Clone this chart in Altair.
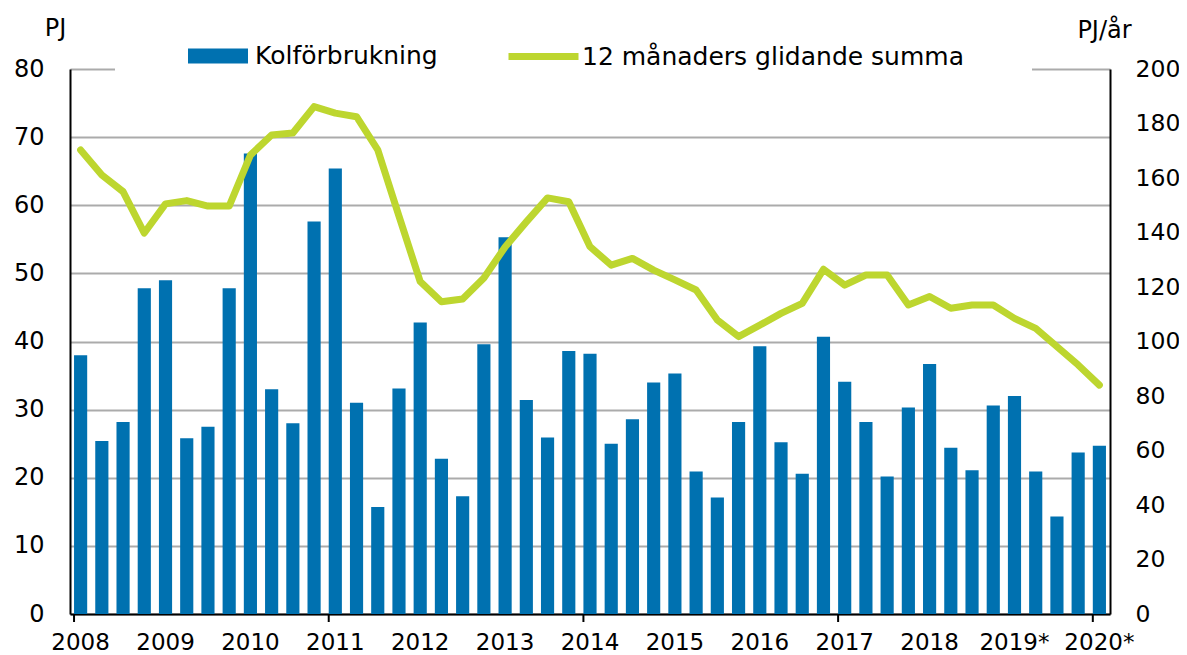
import altair as alt
import pandas as pd

# ---- data -------------------------------------------------------------
year_labels = ["2008", "2009", "2010", "2011", "2012", "2013", "2014",
               "2015", "2016", "2017", "2018", "2019*", "2020*"]
quarter_names = ["Q1", "Q2", "Q3", "Q4"]
periods = [f"{y} {q}" for y in year_labels for q in quarter_names][:49]

# Coal consumption per quarter (PJ, left axis)
coal = [38.0, 25.4, 28.2, 47.8,
        49.0, 25.8, 27.5, 47.8,
        67.6, 33.0, 28.0, 57.6,
        65.4, 31.0, 15.7, 33.1,
        42.8, 22.8, 17.3, 39.6,
        55.3, 31.4, 25.9, 38.6,
        38.2, 25.0, 28.6, 34.0,
        35.3, 20.9, 17.1, 28.2,
        39.3, 25.2, 20.6, 40.7,
        34.1, 28.2, 20.2, 30.3,
        36.7, 24.4, 21.1, 30.6,
        32.0, 20.9, 14.3, 23.7,
        24.7]

# 12-month moving sum (PJ/year, right axis)
rolling = [170.3, 161.1, 155.0, 139.8,
           150.5, 151.7, 149.7, 149.7,
           168.4, 175.8, 176.5, 186.2,
           183.8, 182.5, 170.3, 146.0,
           122.0, 114.6, 115.6, 123.3,
           134.7, 143.9, 152.7, 151.3,
           134.8, 128.0, 130.5, 126.2,
           122.6, 118.9, 107.9, 101.8,
           106.0, 110.3, 114.0, 126.5,
           120.7, 124.4, 124.4, 113.4,
           116.5, 112.2, 113.4, 113.4,
           108.5, 104.8, 98.1, 91.4,
           84.0]

tick_years = ["2008", "2011", "2014", "2017", "2020*"]
left_ticks = [0, 10, 20, 30, 40, 50, 60, 70, 80]
right_ticks = [0, 20, 40, 60, 80, 100, 120, 140, 160, 180, 200]

bar_name = "Kolförbrukning"
line_name = "12 månaders glidande summa"

BLUE = "#0071B0"
GREEN = "#BDD62F"
GRID = "#ABABAB"
FONT = "DejaVu Sans"

df = pd.DataFrame({"period": periods, "coal": coal, "rolling": rolling})
df["s_bar"] = bar_name
df["s_line"] = line_name
ticks_df = pd.DataFrame({"period": [f"{y} Q1" for y in tick_years]})
blank_df = pd.DataFrame({"k": [0]})

W, H = 1040, 545

x_scale = alt.Scale(domain=periods, paddingInner=0.38, paddingOuter=0.19)

x_axis = alt.Axis(
    title=None, ticks=False, domainColor="black", domainWidth=2,
    labelAngle=0, labelFont=FONT, labelFontSize=23, labelColor="black",
    labelPadding=17, labelBaseline="top", labelAlign="center",
    labelOverlap=False, labelBound=False, labelFlush=False,
    labelExpr="indexof(datum.label, ' Q1') > 0 ? replace(datum.label, ' Q1', '') : ''",
    grid=False,
)

bars = alt.Chart(df).mark_bar().encode(
    x=alt.X("period:N", sort=None, scale=x_scale, axis=x_axis),
    y=alt.Y("coal:Q",
            scale=alt.Scale(domain=[0, 80], nice=False, zero=True),
            axis=alt.Axis(values=left_ticks, title="PJ", titleAngle=0,
                          titleX=-15, titleY=-41, titleAlign="center",
                          titleBaseline="middle", titleFont=FONT,
                          titleFontSize=24, titleFontWeight="normal",
                          titleColor="black",
                          grid=True, gridColor=GRID, gridWidth=2,
                          ticks=False, domainColor="black", domainWidth=2,
                          labelFont=FONT, labelFontSize=24, labelColor="black",
                          labelPadding=26)),
    fill=alt.Fill("s_bar:N",
                  scale=alt.Scale(domain=[bar_name], range=[BLUE]),
                  legend=alt.Legend(title=None, orient="none",
                                    legendX=118, legendY=-43, padding=0,
                                    symbolType="M-1,-0.25H1V0.25H-1Z",
                                    symbolSize=3600, symbolStrokeWidth=0,
                                    symbolOpacity=1,
                                    labelFont=FONT, labelFontSize=25,
                                    labelColor="black", labelOffset=7,
                                    labelLimit=600)),
)

cover = alt.Chart(blank_df).mark_rect(color="white").encode(
    x=alt.value(45), x2=alt.value(962), y=alt.value(-4), y2=alt.value(4)
)

xticks = alt.Chart(ticks_df).mark_rule(color="black", strokeWidth=2).encode(
    x=alt.X("period:N", sort=None, scale=x_scale, bandPosition=0),
    y=alt.value(H), y2=alt.value(H + 8),
)

line = alt.Chart(df).mark_line(strokeWidth=7, strokeJoin="round",
                               strokeCap="round").encode(
    x=alt.X("period:N", sort=None, scale=x_scale),
    y=alt.Y("rolling:Q",
            scale=alt.Scale(domain=[0, 200], nice=False, zero=True),
            axis=alt.Axis(orient="right", values=right_ticks, title="PJ/år",
                          titleAngle=0, titleX=-6, titleY=-39,
                          titleAlign="center", titleBaseline="middle",
                          titleFont=FONT, titleFontSize=24,
                          titleFontWeight="normal", titleColor="black",
                          grid=False, ticks=False, domainColor="black",
                          domainWidth=2, labelFont=FONT, labelFontSize=23.5,
                          labelColor="black", labelPadding=25)),
    stroke=alt.Stroke("s_line:N",
                      scale=alt.Scale(domain=[line_name], range=[GREEN]),
                      legend=alt.Legend(title=None, orient="none",
                                        legendX=435, legendY=-51, padding=0,
                                        symbolType="M-1,0H1", symbolSize=4900,
                                        symbolStrokeWidth=7,
                                        labelFont=FONT, labelFontSize=25,
                                        labelColor="black", labelOffset=0,
                                        labelLimit=800)),
)

chart = alt.layer(bars, cover, xticks, line).resolve_scale(
    y="independent", fill="independent", stroke="independent"
).properties(
    width=W, height=H,
    autosize=alt.AutoSizeParams(type="none"),
    padding={"left": 62, "top": 61, "right": 69, "bottom": 40},
).configure_view(stroke=None)

chart.save("out.html", embed_options={"renderer": "svg", "actions": False})
